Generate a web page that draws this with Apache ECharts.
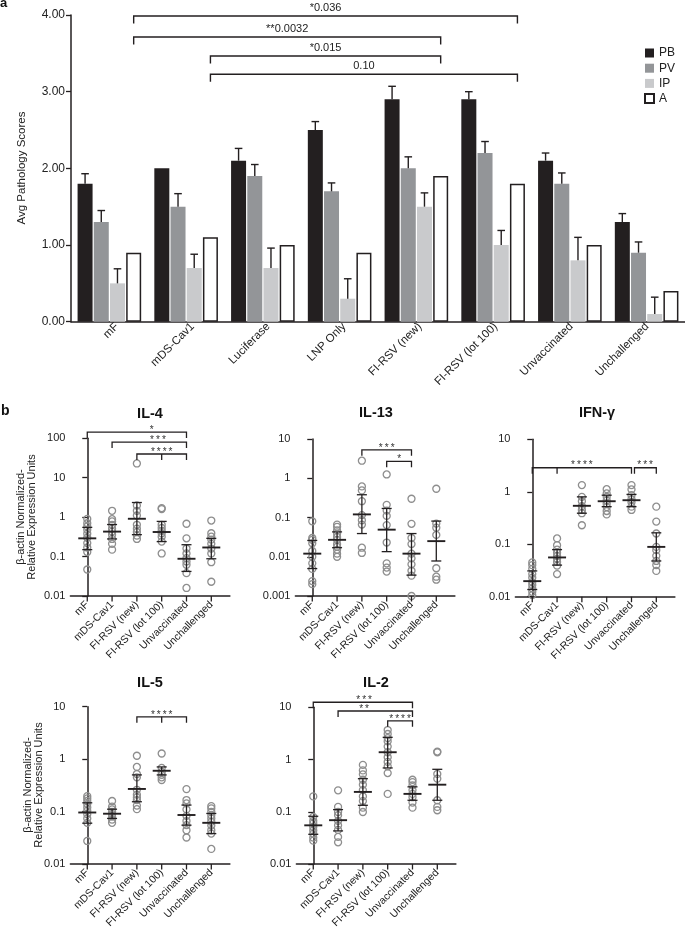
<!DOCTYPE html>
<html><head><meta charset="utf-8">
<script src="https://cdn.jsdelivr.net/npm/echarts@6/dist/echarts.min.js"></script>
<style>html,body{margin:0;padding:0;background:#fff}#c{width:685px;height:934px}</style>
</head><body><div id="c"></div>
<script>
// ---------- Panel a data ----------
const groupsA = ['mF','mDS-Cav1','Luciferase','LNP Only','FI-RSV (new)','FI-RSV (lot 100)','Unvaccinated','Unchallenged'];
const scoreNames = ['PB','PV','IP','A'];
const pbVals = [1.8,2.0,2.1,2.5,2.9,2.9,2.1,1.3];
const pbErrTop = [1.93,2.0,2.26,2.61,3.07,3.0,2.2,1.41];
const pvVals = [1.3,1.5,1.9,1.7,2.0,2.2,1.8,0.9];
const pvErrTop = [1.45,1.67,2.05,1.81,2.15,2.35,1.94,1.04];
const ipVals = [0.5,0.7,0.7,0.3,1.5,1.0,0.8,0.1];
const ipErrTop = [0.69,0.88,0.96,0.56,1.68,1.19,1.1,0.32];
const aVals = [0.9,1.1,1.0,0.9,1.9,1.8,1.0,0.4];
const aErrTop = [0.9,1.1,1.0,0.9,1.9,1.8,1.0,0.4];
// brackets: [fromGroup, toGroup, level]
const aBrackets = [[0,5,3.987],[0,4,3.713],[1,4,3.466],[1,5,3.227]];
const aBracketLabels = ['*0.036','**0.0032','*0.015','0.10'];

// ---------- Panel b data ----------
const cytoGroups = ['mF','mDS-Cav1','FI-RSV (new)','FI-RSV (lot 100)','Unvaccinated','Unchallenged'];

const il4Points = [
  [0.9,0.7,0.58,0.48,0.38,0.3,0.22,0.17,0.13,0.047],
  [1.45,0.89,0.78,0.64,0.51,0.43,0.36,0.28,0.21,0.15],
  [23,1.98,1.45,1.1,0.64,0.51,0.42,0.34,0.28],
  [1.7,1.6,0.64,0.53,0.45,0.39,0.32,0.24,0.12],
  [0.68,0.29,0.16,0.12,0.091,0.075,0.062,0.038,0.016],
  [0.82,0.39,0.32,0.27,0.21,0.16,0.12,0.072,0.023]
];
const il4Mean = [0.29,0.43,0.91,0.42,0.088,0.17];
const il4Low  = [0.15,0.28,0.36,0.24,0.042,0.088];
const il4High = [0.55,0.65,2.35,0.78,0.2,0.29];
const il4Brackets = [[0,4,144,2.6],[1,4,80,2.85],[2,4,40,3.0]];
const il4BracketLabels = ['*','***','****'];
const il4BracketMids = [[],[],[3]];

const il13Points = [
  [0.08,0.03,0.027,0.022,0.014,0.01,0.0068,0.0049,0.0024,0.002],
  [0.066,0.058,0.047,0.039,0.032,0.027,0.021,0.018,0.015,0.012,0.01],
  [2.8,0.62,0.49,0.26,0.115,0.085,0.066,0.017,0.0125],
  [1.25,0.21,0.15,0.11,0.064,0.023,0.0068,0.0053,0.0042],
  [0.3,0.069,0.03,0.021,0.012,0.0091,0.0064,0.0044,0.0033,0.001],
  [0.54,0.07,0.055,0.036,0.0051,0.0031,0.0026]
];
const il13Mean = [0.012,0.027,0.12,0.049,0.012,0.025];
const il13Low  = [0.005,0.017,0.039,0.0135,0.0034,0.0078];
const il13High = [0.026,0.043,0.38,0.17,0.039,0.081];
const il13Brackets = [[2,4,5.3,3.0],[3,4,2.7,3.5]];
const il13BracketLabels = ['***','*'];
const il13BracketMids = [[],[]];

const ifnPoints = [
  [0.045,0.04,0.034,0.027,0.023,0.019,0.0167,0.0144,0.0124,0.0107,0.0095],
  [0.129,0.096,0.079,0.069,0.06,0.053,0.046,0.039,0.027],
  [1.34,0.8,0.66,0.53,0.45,0.39,0.23],
  [1.12,0.93,0.8,0.68,0.59,0.51,0.43,0.37],
  [1.34,1.11,0.86,0.72,0.63,0.52,0.45],
  [0.52,0.27,0.16,0.089,0.077,0.06,0.048,0.04,0.031]
];
const ifnMean = [0.0198,0.056,0.54,0.66,0.69,0.089];
const ifnLow  = [0.0137,0.04,0.39,0.52,0.52,0.048];
const ifnHigh = [0.031,0.079,0.8,0.86,0.89,0.165];
const ifnBrackets = [[0,4,2.87,2.0],[4.12,5,2.87,4.55]];
const ifnBracketLabels = ['****','***'];
const ifnBracketMids = [[1],[]];

const il5Points = [
  [0.197,0.178,0.159,0.139,0.12,0.104,0.089,0.074,0.061,0.0275],
  [0.159,0.124,0.11,0.099,0.089,0.08,0.07,0.061],
  [1.16,0.71,0.52,0.45,0.26,0.21,0.186,0.166,0.13,0.111],
  [1.28,0.68,0.57,0.5,0.45,0.4],
  [0.268,0.166,0.143,0.11,0.083,0.066,0.055,0.044,0.032],
  [0.127,0.115,0.099,0.085,0.074,0.064,0.054,0.044,0.038,0.0194]
];
const il5Mean = [0.096,0.091,0.27,0.6,0.086,0.061];
const il5Low  = [0.06,0.074,0.154,0.5,0.055,0.038];
const il5High = [0.147,0.111,0.5,0.71,0.133,0.092];
const il5Brackets = [[2,4,6.4,3.0]];
const il5BracketLabels = ['****'];
const il5BracketMids = [[3]];

const il2Points = [
  [0.197,0.08,0.067,0.06,0.051,0.044,0.038,0.032,0.028],
  [0.257,0.124,0.099,0.086,0.067,0.055,0.045,0.033,0.026],
  [0.79,0.62,0.52,0.41,0.33,0.26,0.197,0.16,0.12,0.099],
  [3.67,3.08,2.58,2.23,1.77,1.38,1.11,0.9,0.74,0.55,0.22],
  [0.41,0.37,0.32,0.26,0.22,0.19,0.15,0.12],
  [1.42,1.38,0.53,0.43,0.166,0.124,0.107]
];
const il2Mean = [0.055,0.069,0.24,1.38,0.22,0.33];
const il2Low  = [0.037,0.043,0.133,0.69,0.166,0.166];
const il2High = [0.082,0.11,0.43,2.66,0.3,0.65];
const il2Brackets = [[0,4,12.5,2.05],[1,4,8.5,2.05],[3,4,5.5,3.5]];
const il2BracketLabels = ['***','**','****'];
const il2BracketMids = [[],[],[]];

// ---------- styling / layout ----------
const INK = '#231f20';
const FONT = "'Liberation Sans', Arial, Helvetica, sans-serif";
const BAR_W = 15, BAR_GAP = 1.2;
const barColors = ['#231f20','#939598','#c9cacc','#ffffff'];

const panels = [
  {title:'IL-4', pts:il4Points, mean:il4Mean, low:il4Low, high:il4High, br:il4Brackets, brL:il4BracketLabels, brM:il4BracketMids, ymin:0.01, ymax:100, grid:{left:70.4, top:438.3, width:159.5, height:157.7}, tx:150, ty:414},
  {title:'IL-13', pts:il13Points, mean:il13Mean, low:il13Low, high:il13High, br:il13Brackets, brL:il13BracketLabels, brM:il13BracketMids, ymin:0.001, ymax:10, grid:{left:295.4, top:439, width:159.5, height:157}, tx:376, ty:413},
  {title:'IFN-γ', pts:ifnPoints, mean:ifnMean, low:ifnLow, high:ifnHigh, br:ifnBrackets, brL:ifnBracketLabels, brM:ifnBracketMids, ymin:0.01, ymax:10, grid:{left:515.4, top:439.3, width:159.5, height:157.4}, tx:597, ty:413},
  {title:'IL-5', pts:il5Points, mean:il5Mean, low:il5Low, high:il5High, br:il5Brackets, brL:il5BracketLabels, brM:il5BracketMids, ymin:0.01, ymax:10, grid:{left:70.4, top:706.7, width:159.5, height:157.3}, tx:150, ty:683},
  {title:'IL-2', pts:il2Points, mean:il2Mean, low:il2Low, high:il2High, br:il2Brackets, brL:il2BracketLabels, brM:il2BracketMids, ymin:0.01, ymax:10, grid:{left:296.4, top:707.3, width:159.5, height:156.7}, tx:376, ty:683}
];

// grid 0: bars; grid 1: label-only copy of the category axis shifted to match the reference's label placement
const grids = [{left:71, top:15, width:614, height:306.7},{left:79, top:12, width:614, height:306.7}];
const xAxes = [{
  type:'category', gridIndex:0, data:groupsA,
  axisLine:{lineStyle:{color:INK,width:1.5}}, axisTick:{show:false}, axisLabel:{show:false}
},{
  type:'category', gridIndex:1, data:groupsA,
  axisLine:{show:false}, axisTick:{show:false},
  axisLabel:{rotate:45, interval:0, fontSize:11.5, color:'#222', fontFamily:FONT, margin:6}
}];
const yAxes = [{
  type:'value', gridIndex:0, min:0, max:4, interval:1,
  splitLine:{show:false},
  axisLine:{show:true, lineStyle:{color:INK,width:1.5}},
  axisTick:{show:true, length:5, lineStyle:{color:INK,width:1.3}},
  axisLabel:{formatter:v=>v.toFixed(2), fontSize:12, color:'#222', fontFamily:FONT, margin:6}
},{
  type:'value', gridIndex:1, min:0, max:4, show:false
}];

const series = [];
const barVals = [pbVals,pvVals,ipVals,aVals];
const barErr = [pbErrTop,pvErrTop,ipErrTop,aErrTop];
scoreNames.forEach((n,k)=>{
  series.push({
    name:n, type:'bar', xAxisIndex:0, yAxisIndex:0, data:barVals[k],
    barWidth:BAR_W, barGap:(BAR_GAP/BAR_W*100)+'%',
    itemStyle:{color:barColors[k], borderColor:k===3?INK:barColors[k], borderWidth:k===3?1.5:0},
    emphasis:{disabled:true}, z:2
  });
});
// error bars panel a
const errData = [];
barVals.forEach((vals,k)=>vals.forEach((v,g)=>errData.push([g,k,v,barErr[k][g]])));
series.push({
  type:'custom', xAxisIndex:0, yAxisIndex:0, data:errData, encode:{x:0,y:[2,3]}, z:3, silent:true,
  renderItem:(params,api)=>{
    const g=api.value(0), k=api.value(1), v=api.value(2), h=api.value(3);
    if (h<=v) return null;
    const off=(k-1.5)*(BAR_W+BAR_GAP);
    const p0=api.coord([g,v]), p1=api.coord([g,h]);
    const x=p0[0]+off;
    const st={stroke:INK,lineWidth:1.4};
    return {type:'group',children:[
      {type:'line',shape:{x1:x,y1:p0[1],x2:x,y2:p1[1]},style:st},
      {type:'line',shape:{x1:x-3.8,y1:p1[1],x2:x+3.8,y2:p1[1]},style:st}
    ]};
  }
});
// brackets panel a
series.push({
  type:'custom', xAxisIndex:0, yAxisIndex:0, data:aBrackets, encode:{x:[0,1],y:2}, z:4, silent:true,
  renderItem:(params,api)=>{
    const f=api.value(0), t=api.value(1), lv=api.value(2);
    const off=1.5*(BAR_W+BAR_GAP);
    const pf=api.coord([f,lv]), pt=api.coord([t,lv]);
    const xf=pf[0]+off, xt=pt[0]+off, y=pf[1];
    return {type:'group',children:[
      {type:'polyline',shape:{points:[[xf,y+7.6],[xf,y],[xt,y],[xt,y+7.6]]},style:{stroke:INK,lineWidth:1.4,fill:null}},
      {type:'text',x:(xf+xt)/2,y:y-2.5,style:{text:aBracketLabels[params.dataIndex],align:'center',verticalAlign:'bottom',fontSize:11,fontFamily:FONT,fill:'#222'}}
    ]};
  }
});

const fmtLog = v => String(Number(Number(v).toPrecision(1)));
const idx6 = [0,1,2,3,4,5];
const graphics = [];

panels.forEach((p,i)=>{
  const gi=i+2;
  grids.push(p.grid);
  xAxes.push({
    type:'value', gridIndex:gi, min:-0.68, max:5.75,
    splitLine:{show:false},
    axisLine:{lineStyle:{color:INK,width:1.5}},
    axisTick:{show:false},
    axisLabel:{customValues:idx6, formatter:v=>cytoGroups[Math.round(v)], rotate:45, fontSize:10.5, color:'#222', fontFamily:FONT, margin:7}
  });
  yAxes.push({
    type:'log', logBase:10, gridIndex:gi, min:p.ymin, max:p.ymax, splitNumber:5,
    splitLine:{show:false},
    axisLine:{show:true, lineStyle:{color:INK,width:1.5}},
    axisTick:{show:true, length:5, lineStyle:{color:INK,width:1.3}},
    axisLabel:{formatter:fmtLog, fontSize:11, color:'#222', fontFamily:FONT, margin:5}
  });
  const sd=[];
  p.pts.forEach((arr,g)=>arr.forEach(v=>sd.push([g,v])));
  series.push({
    type:'scatter', xAxisIndex:gi, yAxisIndex:gi, data:sd, symbol:'circle', symbolSize:7,
    itemStyle:{color:'rgba(255,255,255,0)', borderColor:'#8e8e8e', borderWidth:1.3, opacity:1},
    emphasis:{disabled:true}, silent:true, z:2
  });
  const md=p.mean.map((m,g)=>[g,m,p.low[g],p.high[g]]);
  series.push({
    type:'custom', xAxisIndex:gi, yAxisIndex:gi, data:md, encode:{x:0,y:[1,2,3]}, z:3, silent:true, clip:false,
    renderItem:(params,api)=>{
      const x=api.value(0), m=api.value(1), lo=api.value(2), hi=api.value(3);
      const pm=api.coord([x,m]), pl=api.coord([x,lo]), ph=api.coord([x,hi]), pb=api.coord([x,p.ymin]);
      const cx=pm[0];
      const st={stroke:INK,lineWidth:1.3};
      return {type:'group',children:[
        {type:'line',shape:{x1:cx,y1:pb[1],x2:cx,y2:pb[1]+5.5},style:st},
        {type:'line',shape:{x1:cx,y1:pl[1],x2:cx,y2:ph[1]},style:st},
        {type:'line',shape:{x1:cx-5,y1:pl[1],x2:cx+5,y2:pl[1]},style:st},
        {type:'line',shape:{x1:cx-5,y1:ph[1],x2:cx+5,y2:ph[1]},style:st},
        {type:'line',shape:{x1:cx-9,y1:pm[1],x2:cx+9,y2:pm[1]},style:{stroke:INK,lineWidth:1.9}}
      ]};
    }
  });
  series.push({
    type:'custom', xAxisIndex:gi, yAxisIndex:gi, data:p.br, encode:{x:[0,1],y:2}, z:4, silent:true, clip:false,
    renderItem:(params,api)=>{
      const f=api.value(0), t=api.value(1), lv=api.value(2), ta=api.value(3);
      const pf=api.coord([f,lv]), pt=api.coord([t,lv]), pa=api.coord([ta,lv]);
      const y=pf[1], D=6;
      const ch=[{type:'polyline',shape:{points:[[pf[0],y+D],[pf[0],y],[pt[0],y],[pt[0],y+D]]},style:{stroke:INK,lineWidth:1.3,fill:null}}];
      p.brM[params.dataIndex].forEach(mx=>{
        const pmx=api.coord([mx,lv]);
        ch.push({type:'line',shape:{x1:pmx[0],y1:y,x2:pmx[0],y2:y+D},style:{stroke:INK,lineWidth:1.3}});
      });
      ch.push({type:'text',x:pa[0],y:y-2,style:{text:p.brL[params.dataIndex].split('').join('\u2009'),align:'center',verticalAlign:'middle',fontSize:10,fontFamily:FONT,fill:'#333'}});
      return {type:'group',children:ch};
    }
  });
  graphics.push({type:'text',x:p.tx,y:p.ty,style:{text:p.title,align:'center',verticalAlign:'middle',fontSize:14.5,fontWeight:'bold',fontFamily:FONT,fill:'#111'}});
});

graphics.push({type:'text',left:0,top:-3,style:{text:'a',fontSize:13,fontWeight:'bold',fontFamily:FONT,fill:'#111'}});
graphics.push({type:'text',left:1,top:404,style:{text:'b',fontSize:14,fontWeight:'bold',fontFamily:FONT,fill:'#111'}});
graphics.push({type:'text',x:22,y:168,rotation:Math.PI/2,style:{text:'Avg Pathology Scores',align:'center',verticalAlign:'middle',fontSize:11.5,fontFamily:FONT,fill:'#222'}});
const yLab='β-actin Normalized-\nRelative Expression Units';
graphics.push({type:'text',x:26,y:517,rotation:Math.PI/2,style:{text:yLab,align:'center',verticalAlign:'middle',fontSize:11,lineHeight:11,fontFamily:FONT,fill:'#222'}});
graphics.push({type:'text',x:33,y:785,rotation:Math.PI/2,style:{text:yLab,align:'center',verticalAlign:'middle',fontSize:11,lineHeight:11,fontFamily:FONT,fill:'#222'}});

const chart = echarts.init(document.getElementById('c'), null, {renderer:'canvas'});
chart.setOption({
  animation:false,
  backgroundColor:'#fff',
  legend:{
    data:scoreNames, orient:'vertical', left:639, top:42, itemWidth:9, itemHeight:9, itemGap:3.2,
    icon:'rect', textStyle:{fontSize:12, lineHeight:12, fontFamily:FONT, color:'#222'}, selectedMode:false
  },
  grid:grids, xAxis:xAxes, yAxis:yAxes, series:series, graphic:graphics
});
</script></body></html>
